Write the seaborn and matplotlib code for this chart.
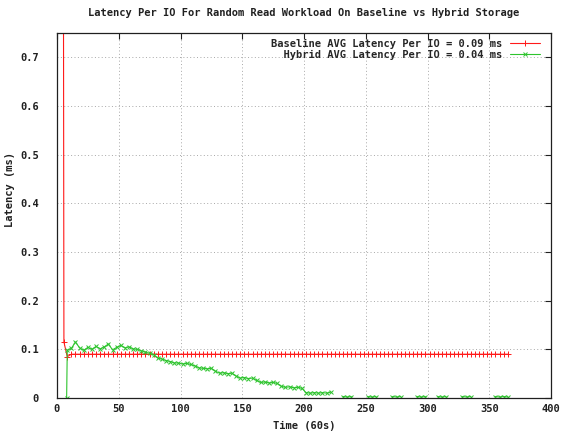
import numpy as np
import pandas as pd
import matplotlib
matplotlib.use("Agg")
import matplotlib.pyplot as plt
import seaborn as sns
from matplotlib.lines import Line2D

# ---- data -------------------------------------------------------------
title = "Latency Per IO For Random Read Workload On Baseline vs Hybrid Storage"
x_label = "Time (60s)"
y_label = "Latency (ms)"
series_labels = [
    "Baseline AVG Latency Per IO = 0.09 ms",
    "  Hybrid AVG Latency Per IO = 0.04 ms",
]

x_ticks = [0, 50, 100, 150, 200, 250, 300, 350, 400]
y_ticks = [0, 0.1, 0.2, 0.3, 0.4, 0.5, 0.6, 0.7]
y_tick_labels = ["0", "0.1", "0.2", "0.3", "0.4", "0.5", "0.6", "0.7"]

# samples are taken every 200 s (= 10/3 of a 60 s unit)
sample_start = 8.3
sample_step = 10 / 3

# warm-up samples recorded before the regular sampling starts
baseline_lead_time = [4.9, 5.6]
baseline_lead_latency = [1.5, 0.115]
hybrid_lead_time = [7.8]
hybrid_lead_latency = [0.0]

baseline_latency = [
    0.085, 0.09, 0.09, 0.09, 0.09, 0.09, 0.09, 0.09, 0.09, 0.09,
    0.09, 0.09, 0.09, 0.09, 0.09, 0.09, 0.09, 0.09, 0.09, 0.09,
    0.09, 0.09, 0.09, 0.09, 0.09, 0.09, 0.09, 0.09, 0.09, 0.09,
    0.09, 0.09, 0.09, 0.09, 0.09, 0.09, 0.09, 0.09, 0.09, 0.09,
    0.09, 0.09, 0.09, 0.09, 0.09, 0.09, 0.09, 0.09, 0.09, 0.09,
    0.09, 0.09, 0.09, 0.09, 0.09, 0.09, 0.09, 0.09, 0.09, 0.09,
    0.09, 0.09, 0.09, 0.09, 0.09, 0.09, 0.09, 0.09, 0.09, 0.09,
    0.09, 0.09, 0.09, 0.09, 0.09, 0.09, 0.09, 0.09, 0.09, 0.09,
    0.09, 0.09, 0.09, 0.09, 0.09, 0.09, 0.09, 0.09, 0.09, 0.09,
    0.09, 0.09, 0.09, 0.09, 0.09, 0.09, 0.09, 0.09, 0.09, 0.09,
    0.09, 0.09, 0.09, 0.09, 0.09, 0.09, 0.09, 0.09,
]

nan = np.nan
hybrid_latency = [
    0.098, 0.102, 0.115, 0.103, 0.098, 0.104, 0.100, 0.106, 0.101, 0.105,
    0.111, 0.099, 0.104, 0.108, 0.103, 0.105, 0.101, 0.100, 0.097, 0.094,
    0.092, 0.089, 0.082, 0.080, 0.077, 0.075, 0.072, 0.072, 0.070, 0.071,
    0.069, 0.066, 0.062, 0.061, 0.060, 0.061, 0.055, 0.051, 0.052, 0.050,
    0.051, 0.045, 0.041, 0.042, 0.040, 0.041, 0.036, 0.032, 0.033, 0.031,
    0.032, 0.030, 0.024, 0.022, 0.023, 0.021, 0.022, 0.020, 0.011, 0.010,
    0.011, 0.010, 0.011, 0.010, 0.012, nan, nan, 0.003, 0.002, 0.003,
    nan, nan, nan, 0.003, 0.002, 0.003, nan, nan, nan, 0.003,
    0.002, 0.003, nan, nan, nan, 0.003, 0.002, 0.003, nan, nan,
    0.003, 0.002, 0.003, nan, nan, nan, 0.003, 0.002, 0.003, nan,
    nan, nan, nan, nan, 0.003, 0.002, 0.003, 0.002,
]

# ---- tables -----------------------------------------------------------
def sample_times(n):
    return list(sample_start + np.arange(n) * sample_step)

baseline = pd.DataFrame({
    "time": baseline_lead_time + sample_times(len(baseline_latency)),
    "latency": baseline_lead_latency + baseline_latency,
})

hybrid = pd.DataFrame({
    "time": hybrid_lead_time + sample_times(len(hybrid_latency)),
    "latency": hybrid_lead_latency + hybrid_latency,
})
# missing samples split the hybrid trace into separate runs
hybrid["segment"] = hybrid["latency"].isna().cumsum()
hybrid = hybrid.dropna()

# ---- style ------------------------------------------------------------
sns.set_style("white")
plt.rcParams["font.family"] = ["DejaVu Sans Mono"]
plt.rcParams["font.weight"] = "bold"
font_size = 7.5
ink = "#202020"

red = "#ff1a1a"
green = "#2ec42e"

fig = plt.figure(figsize=(5.63, 4.32), dpi=100)
ax = fig.add_axes([57 / 563, 34 / 432, 494 / 563, 365 / 432])

sns.lineplot(data=baseline, x="time", y="latency", ax=ax, color=red,
             linewidth=0.8, marker="+", markersize=4.5,
             markeredgecolor=red, markeredgewidth=0.7)
sns.lineplot(data=hybrid, x="time", y="latency", units="segment",
             estimator=None, ax=ax, color=green, linewidth=0.8,
             marker="x", markersize=3.5,
             markeredgecolor=green, markeredgewidth=0.7)

ax.set_xlim(0, 400)
ax.set_ylim(0, 0.75)
ax.set_xticks(x_ticks)
ax.set_xticklabels([str(t) for t in x_ticks])
ax.set_yticks(y_ticks)
ax.set_yticklabels(y_tick_labels)

ax.grid(True, color="#a8a8a8", linestyle=(0, (1, 2.5)), linewidth=0.7)
for spine in ax.spines.values():
    spine.set_visible(True)
    spine.set_color(ink)
    spine.set_linewidth(0.9)

ax.tick_params(axis="both", direction="in", length=4, width=0.8,
               color=ink, top=True, right=True,
               labelsize=font_size, labelcolor=ink)
ax.tick_params(axis="y", pad=13)
ax.tick_params(axis="x", pad=4)

ax.set_title(title, fontsize=font_size, fontweight="bold", pad=12, color=ink)
ax.set_xlabel(x_label, fontsize=font_size, fontweight="bold", labelpad=5.5,
              color=ink)
ax.set_ylabel(y_label, fontsize=font_size, fontweight="bold", color=ink)
ax.yaxis.set_label_coords(-0.085, 0.57)

handles = [
    Line2D([], [], color=red, linewidth=0.8, marker="+", markersize=4.5,
           markeredgecolor=red, markeredgewidth=0.7),
    Line2D([], [], color=green, linewidth=0.8, marker="x", markersize=3.5,
           markeredgecolor=green, markeredgewidth=0.7),
]
ax.legend(handles, series_labels, loc="upper right",
          bbox_to_anchor=(0.978, 0.985), frameon=False, markerfirst=False,
          handlelength=2.9, handletextpad=0.7, labelspacing=0.1,
          borderpad=0, borderaxespad=0,
          prop={"family": "DejaVu Sans Mono", "weight": "bold",
                "size": font_size})

fig.savefig("out.png", dpi=100, facecolor="white")
